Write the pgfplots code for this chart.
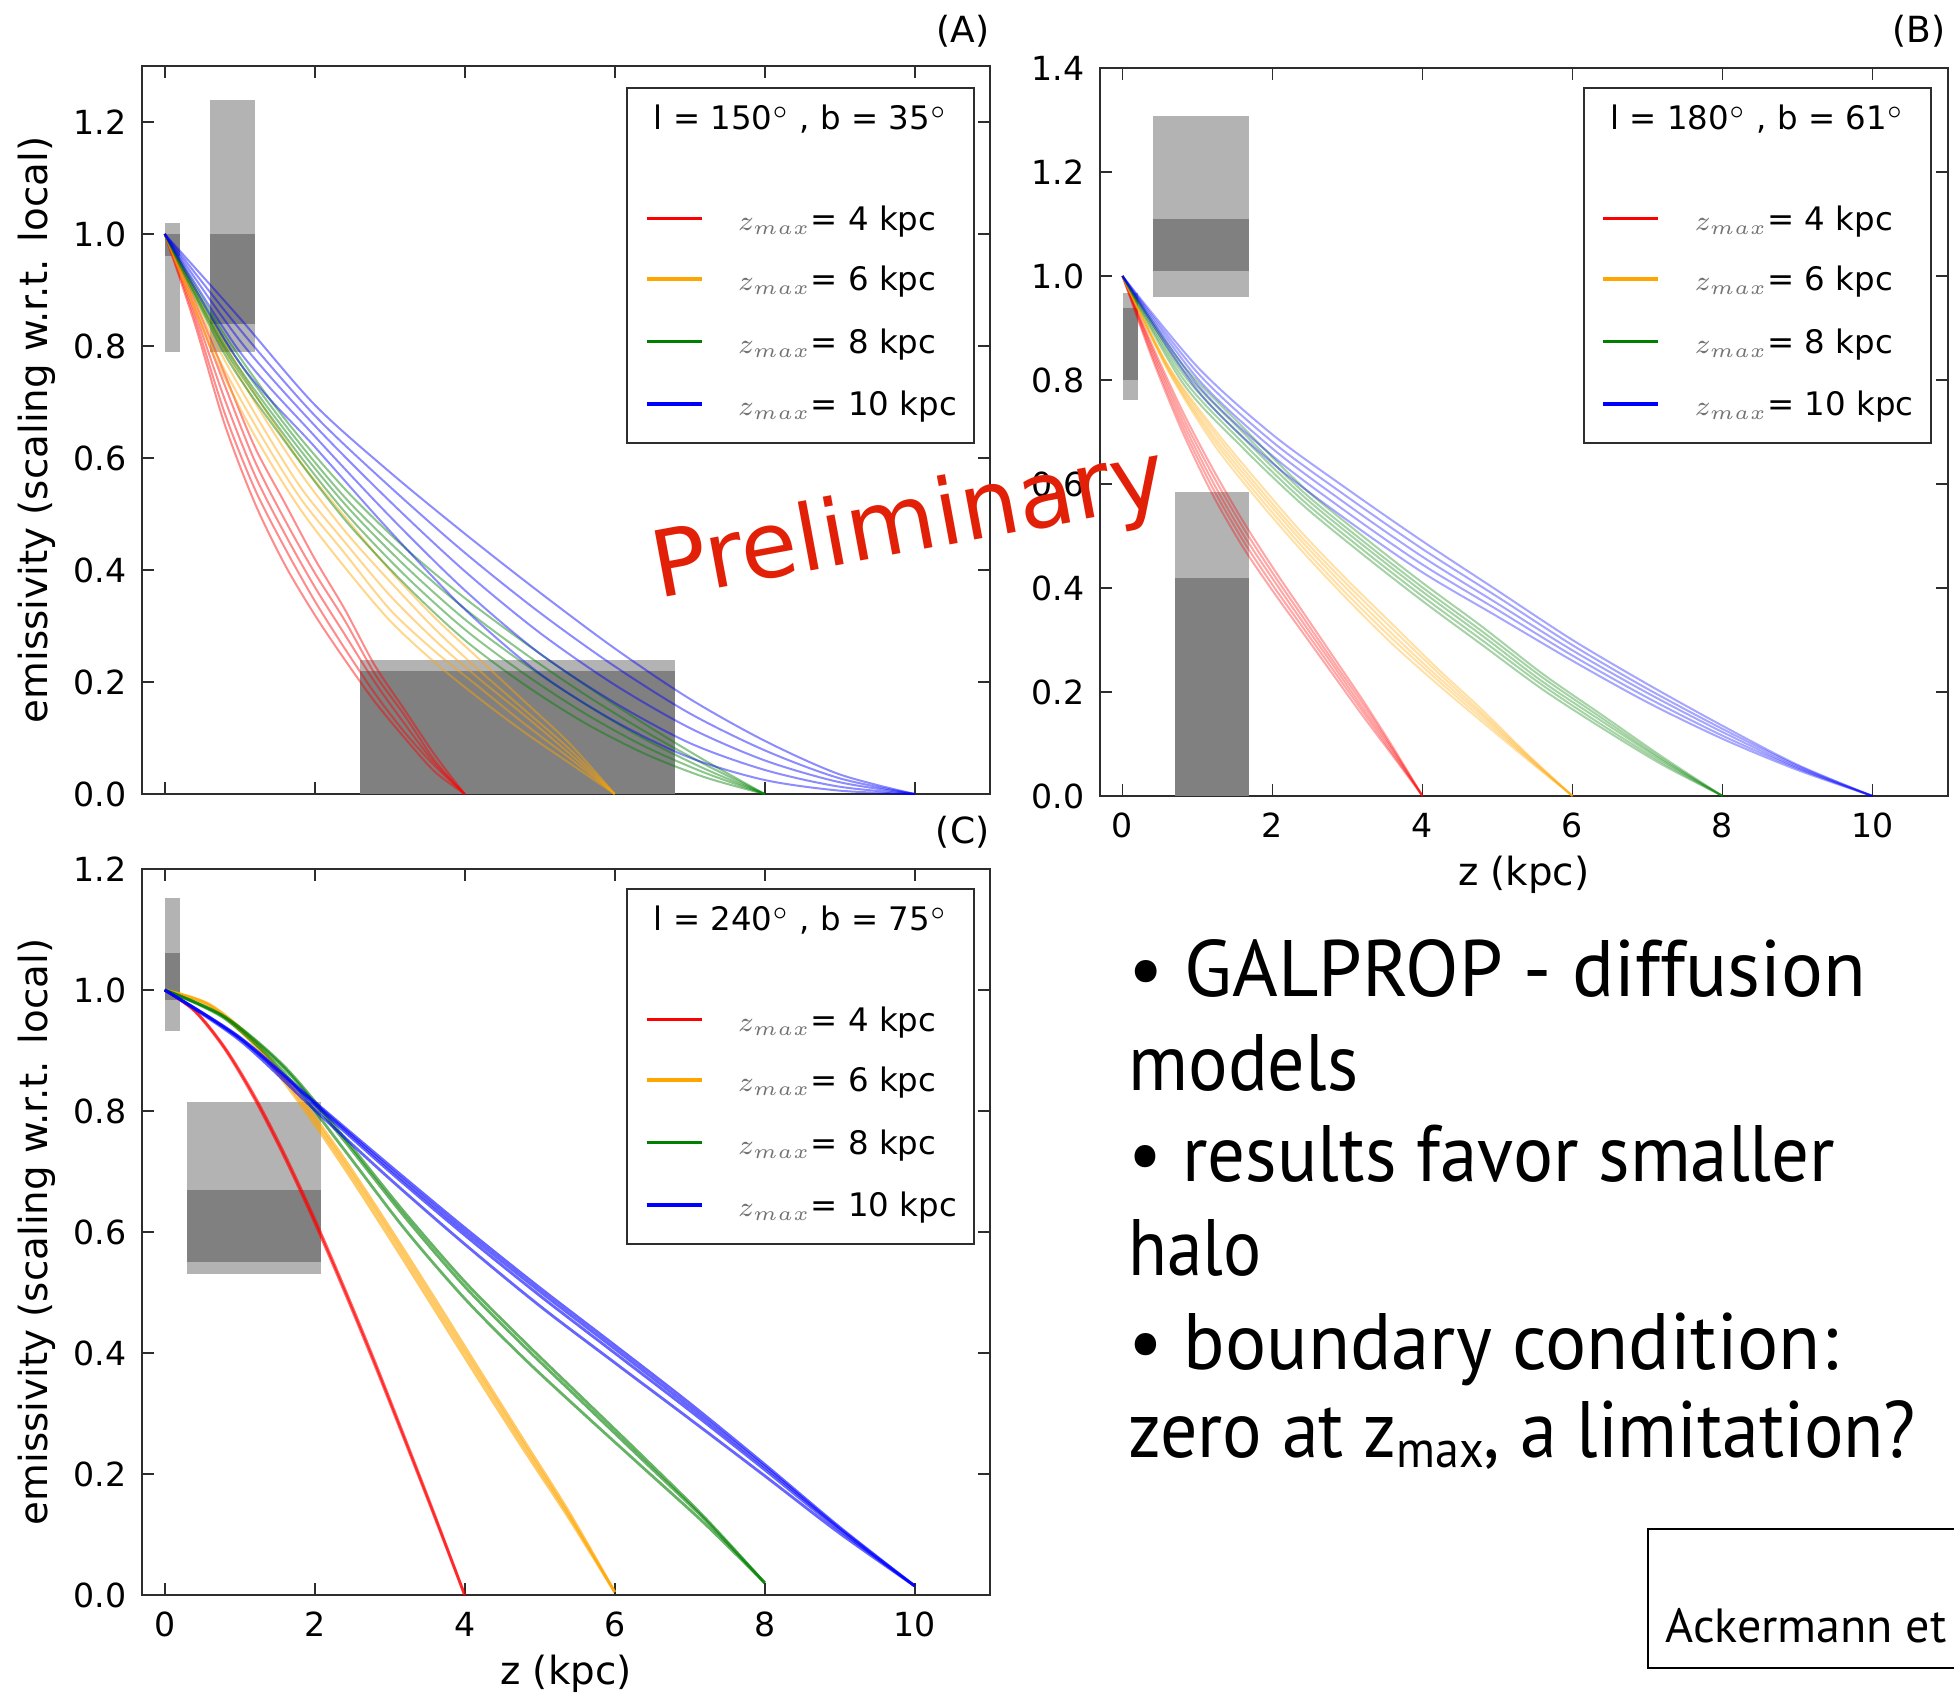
\documentclass[border=0pt]{standalone}
\usepackage{fontspec}
\setmainfont{DejaVu Sans}
\newfontfamily\slidefont{PT Sans}
\newfontfamily\prelimfont{DejaVu Sans}
\usepackage{graphicx}
\usepackage{pgfplots}
\usepackage{pgfplotstable}
\pgfplotsset{compat=1.18}

\definecolor{lgray}{RGB}{179,179,179}
\definecolor{dgray}{RGB}{128,128,128}
\definecolor{mplred}{RGB}{255,0,0}
\definecolor{mplorange}{RGB}{255,165,0}
\definecolor{mplgreen}{RGB}{0,128,0}
\definecolor{mplblue}{RGB}{0,0,255}
\definecolor{prelim}{RGB}{226,32,8}
\definecolor{frame}{RGB}{45,45,45}

\newcommand\tickfont{\fontsize{8.3}{10}\selectfont}
\newcommand\labfont{\fontsize{9.7}{11.6}\selectfont}
\newcommand\legfont{\fontsize{8.1}{9.7}\selectfont}
\newcommand\zfont{\fontsize{7.2}{8.6}\selectfont}

% ---------------- panel A ----------------
\pgfplotstableread{
z l1 l2 l3 l4 l5
0 1 1 1 1 1
0.4 .84 .85 .86 .87 .88
0.8 .66 .68 .705 .73 .75
1.2 .52 .545 .57 .595 .62
1.6 .41 .44 .465 .49 .52
2.0 .32 .345 .37 .395 .42
2.4 .24 .26 .285 .31 .33
2.8 .165 .18 .20 .215 .23
3.2 .10 .11 .125 .14 .15
3.6 .04 .05 .055 .06 .07
4.0 0 0 0 0 0
}\ARed
\pgfplotstableread{
z l1 l2 l3 l4 l5
0 1 1 1 1 1
0.6 .80 .81 .825 .84 .85
1.2 .64 .66 .68 .70 .715
1.8 .51 .53 .55 .575 .595
2.4 .405 .43 .45 .47 .495
3.0 .31 .33 .355 .38 .40
3.6 .235 .255 .275 .295 .315
4.2 .17 .19 .205 .22 .24
4.8 .11 .125 .14 .15 .165
5.4 .055 .064 .072 .08 .09
6.0 0 0 0 0 0
}\AOrange
\pgfplotstableread{
z l1 l2 l3 l4 l5
0 1 1 1 1 1
0.8 .785 .794 .80 .81 .82
1.6 .63 .64 .65 .66 .67
2.4 .49 .504 .518 .53 .545
3.2 .375 .391 .408 .424 .44
4.0 .275 .294 .312 .331 .35
4.8 .195 .214 .232 .251 .27
5.6 .127 .144 .161 .178 .195
6.4 .072 .085 .098 .112 .125
7.2 .03 .038 .045 .053 .06
8.0 0 0 0 0 0
}\AGreen
\pgfplotstableread{
z l1 l2 l3 l4 l5
0 1 1 1 1 1
1 .77 .79 .81 .83 .85
2 .62 .639 .658 .676 .695
3 .47 .496 .523 .549 .575
4 .33 .364 .398 .431 .465
5 .215 .251 .288 .324 .36
6 .13 .163 .195 .228 .26
7 .065 .091 .118 .144 .17
8 .025 .043 .06 .078 .095
9 .006 .013 .021 .028 .035
10 0 0 0 0 0
}\ABlue

% ---------------- panel B ----------------
\pgfplotstableread{
z l1 l2 l3 l4 l5
0 1 1 1 1 1
0.4 .84 .846 .853 .859 .865
0.8 .70 .71 .72 .73 .74
1.2 .58 .593 .605 .618 .63
1.6 .48 .493 .505 .518 .53
2.0 .395 .406 .418 .429 .44
2.4 .315 .325 .335 .345 .355
2.8 .235 .244 .253 .261 .27
3.2 .155 .163 .17 .178 .185
3.6 .078 .082 .087 .091 .095
4.0 0 0 0 0 0
}\BRed
\pgfplotstableread{
z l1 l2 l3 l4 l5
0 1 1 1 1 1
0.6 .82 .822 .825 .828 .83
1.2 .68 .688 .695 .703 .71
1.8 .57 .579 .588 .596 .605
2.4 .47 .479 .488 .496 .505
3.0 .378 .387 .397 .406 .415
3.6 .292 .302 .311 .321 .33
4.2 .215 .223 .23 .238 .245
4.8 .142 .148 .154 .159 .165
5.4 .07 .073 .075 .078 .08
6.0 0 0 0 0 0
}\BOrange
\pgfplotstableread{
z l1 l2 l3 l4 l5
0 1 1 1 1 1
0.8 .795 .804 .813 .821 .83
1.6 .67 .68 .69 .70 .71
2.4 .56 .569 .578 .586 .595
3.2 .465 .474 .483 .491 .50
4.0 .375 .384 .393 .401 .41
4.8 .29 .299 .308 .316 .325
5.6 .205 .213 .22 .228 .235
6.4 .13 .136 .143 .149 .155
7.2 .06 .064 .068 .071 .075
8.0 0 0 0 0 0
}\BGreen
\pgfplotstableread{
z l1 l2 l3 l4 l5
0 1 1 1 1 1
1 .78 .791 .803 .814 .825
2 .64 .654 .668 .681 .695
3 .53 .545 .56 .575 .59
4 .43 .445 .46 .475 .49
5 .345 .358 .37 .383 .395
6 .26 .27 .28 .29 .30
7 .18 .189 .198 .206 .215
8 .11 .116 .123 .129 .135
9 .05 .053 .055 .058 .06
10 0 0 0 0 0
}\BBlue

% ---------------- panel C ----------------
\pgfplotstableread{
z l1 l2
0 1 1
0.4 .965 .966
0.8 .903 .905
1.2 .82 .824
1.6 .723 .728
2.0 .616 .621
2.4 .501 .506
2.8 .381 .386
3.2 .256 .26
3.6 .129 .132
4.0 0 0
}\CRed
\pgfplotstableread{
z l1 l2 l3
0 1 1 1
0.6 .974 .975 .976
1.2 .908 .912 .915
1.8 .813 .819 .824
2.4 .705 .713 .72
3.0 .59 .599 .607
3.6 .472 .481 .49
4.2 .354 .363 .371
4.8 .238 .246 .253
5.4 .125 .13 .135
6.0 .005 .005 .005
}\COrange
\pgfplotstableread{
z l1 l2 l3
0 1 1 1
0.8 .955 .953 .956
1.6 .87 .862 .873
2.4 .75 .735 .755
3.2 .625 .605 .632
4.0 .51 .49 .518
4.8 .41 .39 .418
5.6 .315 .298 .322
6.4 .22 .208 .226
7.2 .125 .118 .128
8.0 .02 .02 .02
}\CGreen
\pgfplotstableread{
z l1 l2 l3 l4
0 1 1 1 1
1 .92 .922 .921 .917
2 .81 .815 .813 .802
3 .70 .71 .705 .688
4 .595 .607 .601 .58
5 .495 .508 .502 .478
6 .40 .413 .407 .384
7 .305 .317 .311 .291
8 .207 .216 .212 .197
9 .107 .112 .11 .102
10 .015 .015 .015 .015
}\CBlue

\pgfplotsset{
  mpl/.style={
    scale only axis, width=211.875pt, anchor=south west,
    xmin=-0.3, xmax=11, ymin=0,
    axis line style={frame, line width=0.5pt},
    every tick/.style={frame, line width=0.45pt},
    major tick length=3pt,
    tick align=inside,
    xtick={0,2,4,6,8,10},
    ticklabel style={font=\tickfont, text=black},
    /pgf/number format/assume math mode=true,
    yticklabel style={/pgf/number format/fixed, /pgf/number format/fixed zerofill,
      /pgf/number format/precision=1, anchor=east, inner sep=0pt, xshift=-3.7pt},
    xticklabel style={anchor=north, inner sep=0pt, yshift=-4pt},
    every axis y label/.style={at={(axis description cs:-0.124,0.5)}, rotate=90, anchor=center, font=\labfont},
    every axis x label/.style={at={(axis description cs:0.5,-0.108)}, anchor=center, font=\labfont},
  },
  lbox/.style={fill=lgray, draw=none},
  dbox/.style={fill=dgray, draw=none},
  cA/.style={#1, line width=0.5pt, opacity=0.45, smooth},
  cB/.style={#1, line width=0.5pt, opacity=0.35, smooth},
  cC/.style={#1, line width=0.7pt, opacity=0.6, smooth},
}

\newcommand\mpllegend[3]{%
  \begin{scope}[shift={(#1,#2)}]
    \draw[frame, line width=0.5pt, fill=white] (627.3,87.7) rectangle (974,443.3);
    \node[anchor=base, font=\legfont, inner sep=0pt] at (800.6,130) {#3};
    \foreach \c/\yy/\v in {mplred/218.5/4, mplorange/279/6, mplgreen/341.5/8, mplblue/404/10} {
      \draw[\c, line width=0.9pt] (646.7,\yy) -- (701.7,\yy);
      \node[anchor=base west, font=\zfont, inner sep=0pt, text=black!55] at (737,\yy+11.8)
        {$z_{max}$};
      \node[anchor=base west, font=\legfont, inner sep=0pt] at (810,\yy+11.8)
        {= \v{} kpc};
    }
  \end{scope}}

\begin{document}
\begin{tikzpicture}
\useasboundingbox (0,0) rectangle (488.5pt,423.75pt);

% ===== Panel A =====
\begin{axis}[mpl, at={(35.55pt,225.25pt)}, height=182pt, ymax=1.3,
  ytick={0,0.2,0.4,0.6,0.8,1.0,1.2}, xticklabels={{},{},{},{},{},{}},
  ylabel={emissivity (scaling w.r.t. local)}]
  \addplot[lbox] coordinates {(0,0.79) (0.2,0.79) (0.2,1.02) (0,1.02)} -- cycle;
  \addplot[dbox] coordinates {(0,0.96) (0.2,0.96) (0.2,1.0) (0,1.0)} -- cycle;
  \addplot[lbox] coordinates {(0.6,0.79) (1.2,0.79) (1.2,1.24) (0.6,1.24)} -- cycle;
  \addplot[dbox] coordinates {(0.6,0.84) (1.2,0.84) (1.2,1.0) (0.6,1.0)} -- cycle;
  \addplot[lbox] coordinates {(2.6,0) (6.8,0) (6.8,0.24) (2.6,0.24)} -- cycle;
  \addplot[dbox] coordinates {(2.6,0) (6.8,0) (6.8,0.22) (2.6,0.22)} -- cycle;
  \foreach \k in {l1,l2,l3,l4,l5} {
    \addplot[cA=mplred] table[x=z, y=\k] {\ARed};
  }
  \foreach \k in {l1,l2,l3,l4,l5} {
    \addplot[cA=mplorange] table[x=z, y=\k] {\AOrange};
  }
  \foreach \k in {l1,l2,l3,l4,l5} {
    \addplot[cA=mplgreen] table[x=z, y=\k] {\AGreen};
  }
  \foreach \k in {l1,l2,l3,l4,l5} {
    \addplot[cA=mplblue] table[x=z, y=\k] {\ABlue};
  }
\end{axis}

% ===== Panel B =====
\begin{axis}[mpl, at={(275pt,224.75pt)}, height=182pt, ymax=1.4,
  ytick={0,0.2,0.4,0.6,0.8,1.0,1.2,1.4}, xlabel={z (kpc)}]
  \addplot[lbox] coordinates {(0,0.762) (0.2,0.762) (0.2,0.968) (0,0.968)} -- cycle;
  \addplot[dbox] coordinates {(0,0.80) (0.2,0.80) (0.2,0.938) (0,0.938)} -- cycle;
  \addplot[lbox] coordinates {(0.4,0.96) (1.68,0.96) (1.68,1.307) (0.4,1.307)} -- cycle;
  \addplot[dbox] coordinates {(0.4,1.01) (1.68,1.01) (1.68,1.11) (0.4,1.11)} -- cycle;
  \addplot[lbox] coordinates {(0.7,0) (1.68,0) (1.68,0.584) (0.7,0.584)} -- cycle;
  \addplot[dbox] coordinates {(0.7,0) (1.68,0) (1.68,0.419) (0.7,0.419)} -- cycle;
  \foreach \k in {l1,l2,l3,l4,l5} {
    \addplot[cB=mplred] table[x=z, y=\k] {\BRed};
  }
  \foreach \k in {l1,l2,l3,l4,l5} {
    \addplot[cB=mplorange] table[x=z, y=\k] {\BOrange};
  }
  \foreach \k in {l1,l2,l3,l4,l5} {
    \addplot[cB=mplgreen] table[x=z, y=\k] {\BGreen};
  }
  \foreach \k in {l1,l2,l3,l4,l5} {
    \addplot[cB=mplblue] table[x=z, y=\k] {\BBlue};
  }
\end{axis}

% ===== Panel C =====
\begin{axis}[mpl, at={(35.55pt,25pt)}, height=181.5pt, ymax=1.2,
  ytick={0,0.2,0.4,0.6,0.8,1.0,1.2}, xlabel={z (kpc)},
  ylabel={emissivity (scaling w.r.t. local)}]
  \addplot[lbox] coordinates {(0,0.933) (0.2,0.933) (0.2,1.152) (0,1.152)} -- cycle;
  \addplot[dbox] coordinates {(0,0.983) (0.2,0.983) (0.2,1.062) (0,1.062)} -- cycle;
  \addplot[lbox] coordinates {(0.3,0.531) (2.08,0.531) (2.08,0.815) (0.3,0.815)} -- cycle;
  \addplot[dbox] coordinates {(0.3,0.551) (2.08,0.551) (2.08,0.670) (0.3,0.670)} -- cycle;
  \foreach \k in {l1,l2} {
    \addplot[cC=mplred] table[x=z, y=\k] {\CRed};
  }
  \foreach \k in {l1,l2,l3} {
    \addplot[cC=mplorange] table[x=z, y=\k] {\COrange};
  }
  \foreach \k in {l1,l2,l3} {
    \addplot[cC=mplgreen] table[x=z, y=\k] {\CGreen};
  }
  \foreach \k in {l1,l2,l3,l4} {
    \addplot[cC=mplblue] table[x=z, y=\k] {\CBlue};
  }
\end{axis}

% ===== decorations in full-pixel coordinates =====
\begin{scope}[x=0.25pt, y=-0.25pt, shift={(0pt,423.75pt)}]
  \mpllegend{0}{0}{l = 150$^{\circ}$ , b = 35$^{\circ}$}
  \mpllegend{956.7}{0}{l = 180$^{\circ}$ , b = 61$^{\circ}$}
  \mpllegend{0}{800.8}{l = 240$^{\circ}$ , b = 75$^{\circ}$}

  \node[anchor=east, inner sep=0pt, font=\fontsize{9}{11}\selectfont] at (990,31) {(A)};
  \node[anchor=east, inner sep=0pt, font=\fontsize{9}{11}\selectfont] at (1946,31) {(B)};
  \node[anchor=east, inner sep=0pt, font=\fontsize{9}{11}\selectfont] at (990,832) {(C)};

  \node[anchor=base west, inner sep=0pt, rotate=10.5, text=prelim,
        font=\prelimfont\fontsize{23}{27}\selectfont] at (658,599) {Preliminary};

  \begin{scope}[every node/.style={anchor=base west, inner sep=0pt,
        font=\slidefont\fontsize{20}{24}\selectfont}]
    \node at (1127.7,996.3) {\resizebox{184.5pt}{\height}{• GALPROP - diffusion}};
    \node at (1127.7,1090) {\resizebox{57.4pt}{\height}{models}};
    \node at (1127.7,1181.4) {\resizebox{176.7pt}{\height}{• results favor smaller}};
    \node at (1127.7,1275.3) {\resizebox{33.3pt}{\height}{halo}};
    \node at (1127.7,1369) {\resizebox{177.3pt}{\height}{• boundary condition:}};
    \node at (1127.7,1457.8) {\resizebox{196.9pt}{\height}{zero at z\raisebox{-0.12em}{\fontsize{13}{13}\selectfont max}, a limitation?}};
  \end{scope}

  \draw[black, line width=0.5pt] (1647.8,1528.8) rectangle (2100,1668.3);
  \node[anchor=base west, inner sep=0pt, font=\slidefont\fontsize{12}{14}\selectfont]
    at (1664.8,1642.9) {Ackermann et al. 2011};
\end{scope}
\end{tikzpicture}
\end{document}
